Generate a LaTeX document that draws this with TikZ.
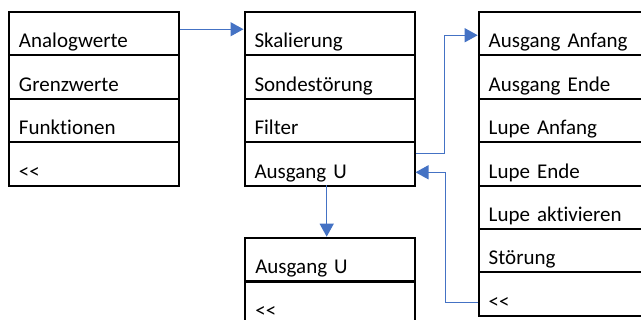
\documentclass[tikz,border=0pt]{standalone}
\usepackage{fontspec}
\setmainfont{Carlito}[Ligatures={TeXOff,NoCommon}]
\usetikzlibrary{arrows.meta}
\definecolor{arrblue}{HTML}{4472C4}
\begin{document}
\begin{tikzpicture}[x=1pt,y=-1pt,
  row/.style={draw=black,line width=2pt,anchor=north west,inner xsep=10pt,inner ysep=0pt,
    text width=150pt,align=left,text height=36pt,text depth=7.5pt,
    font=\fontsize{21}{25}\selectfont},
  arr/.style={draw=arrblue,line width=1.3pt,-{Triangle[length=13pt,width=14pt]}}]
\clip (0,0) rectangle (641,320);
% box 1
\node[row] (a1) at (8,11) {Analogwerte};
\node[row] (a2) at (8,54.5) {Grenzwerte};
\node[row] (a3) at (8,98) {Funktionen};
\node[row] (a4) at (8,141.5) {<<};
% box 2
\node[row] (b1) at (243.5,11) {Skalierung};
\node[row] (b2) at (243.5,54.5) {Sondestörung};
\node[row] (b3) at (243.5,98) {Filter};
\node[row] (b4) at (243.5,141.5) {Ausgang U};
% box 3
\node[row] (c1) at (477.7,11) {Ausgang Anfang};
\node[row] (c2) at (477.7,54.4) {Ausgang Ende};
\node[row] (c3) at (477.7,97.8) {Lupe Anfang};
\node[row] (c4) at (477.7,141.2) {Lupe Ende};
\node[row] (c5) at (477.7,184.6) {Lupe aktivieren};
\node[row] (c6) at (477.7,228) {Störung};
\node[row] (c7) at (477.7,271.4) {<<};
% box 4
\node[row] (d1) at (244.3,236.7) {Ausgang U};
\node[row] (d2) at (244.3,280.7) {<<};
% connectors
\draw[arr] ([yshift=4.5pt]a1.east) -- ([yshift=4.5pt]b1.west);
\coordinate (k1) at (444.3,153.3);
\draw[arr] (b4.east |- k1) -- (k1) |- ([yshift=-1.5pt]c1.west);
\coordinate (k2) at (445.7,302.7);
\coordinate (k3) at (445.7,172.3);
\draw[arr] (c7.west |- k2) -- (k2) -- (k3) -- (b4.east |- k3);
\coordinate (k4) at (326.7,185);
\draw[arr] (k4) -- (k4 |- d1.north);
\end{tikzpicture}
\end{document}
